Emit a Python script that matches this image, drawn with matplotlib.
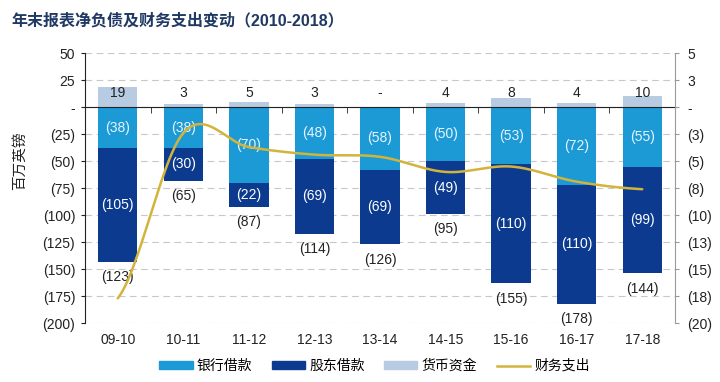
import numpy as np
import matplotlib
matplotlib.use("Agg")
import matplotlib.pyplot as plt
from matplotlib.patches import Patch
from matplotlib.lines import Line2D
from matplotlib.ticker import FixedLocator, FuncFormatter

plt.rcParams['font.family'] = ['Liberation Sans', 'Noto Sans CJK SC', 'DejaVu Sans']

categories = ['09-10', '10-11', '11-12', '12-13', '13-14', '14-15', '15-16', '16-17', '17-18']
bank_loans = [-38, -38, -70, -48, -58, -50, -53, -72, -55]
shareholder_loans = [-105, -30, -22, -69, -69, -49, -110, -110, -99]
cash = [19, 3, 5, 3, 0, 4, 8, 4, 10]
net_debt = [-123, -65, -87, -114, -126, -95, -155, -178, -144]
finance_cost = [-17.7, -2.4, -3.7, -4.4, -4.6, -6.0, -5.5, -6.9, -7.6]
cash_labels = ['19', '3', '5', '3', '-', '4', '8', '4', '10']

legend_names = ['银行借款', '股东借款', '货币资金', '财务支出']
title = '年末报表净负债及财务支出变动（2010-2018）'
ylabel = '百万英镑'

c_bank = '#1C9AD6'
c_share = '#0B3A8F'
c_cash = '#B7CBE3'
c_line = '#D2B43C'

fig = plt.figure(figsize=(7.2, 3.82), dpi=100)
ax = fig.add_axes([0.118, 0.154, 0.8195, 0.707])
ax2 = ax.twinx()

x = np.arange(len(categories))
w = 0.6
ax.bar(x, cash, w, color=c_cash, zorder=2)
ax.bar(x, bank_loans, w, color=c_bank, zorder=2)
ax.bar(x, shareholder_loans, w, bottom=bank_loans, color=c_share, zorder=2)

for i in range(len(categories)):
    ax.text(x[i], 13, cash_labels[i], ha='center', va='center', fontsize=10, color='#222222', zorder=5)
    ax.text(x[i], bank_loans[i] / 2, f'({-bank_loans[i]})', ha='center', va='center',
            fontsize=10, color='#E6F4FF', zorder=5)
    ax.text(x[i], bank_loans[i] + shareholder_loans[i] / 2, f'({-shareholder_loans[i]})',
            ha='center', va='center', fontsize=10, color='white', zorder=5)
    bottom = bank_loans[i] + shareholder_loans[i]
    ax.annotate(f'({-net_debt[i]})', (x[i], bottom), xytext=(0, -6), textcoords='offset points',
                ha='center', va='top', fontsize=10, color='#222222', zorder=5)

# smoothed line (Catmull-Rom through the data points, like a spreadsheet smooth line)
p = np.array(finance_cost, dtype=float)
xs, ys = [], []
n = len(p)
for k in range(n - 1):
    p0 = p[k - 1] if k > 0 else p[k]
    p1, p2 = p[k], p[k + 1]
    p3 = p[k + 2] if k + 2 < n else p[k + 1]
    t = np.linspace(0, 1, 30)
    yk = 0.5 * ((2 * p1) + (-p0 + p2) * t + (2 * p0 - 5 * p1 + 4 * p2 - p3) * t ** 2
                + (-p0 + 3 * p1 - 3 * p2 + p3) * t ** 3)
    xs.extend(k + t)
    ys.extend(yk)
ax2.plot(xs, ys, color=c_line, lw=1.8, zorder=6, solid_capstyle='round')

ax.set_xlim(-0.5, 8.5)
ax.set_ylim(-200, 50)
ax2.set_ylim(-20, 5)

lt = list(range(50, -201, -25))
ax.yaxis.set_major_locator(FixedLocator(lt))

def lfmt(v, pos):
    v = int(round(v))
    if v == 0:
        return '-'
    return f'({-v})' if v < 0 else f'{v}'

def rfmt(v, pos):
    r = int(np.floor(abs(v) + 0.5))
    if abs(v) < 1e-9:
        return '-'
    return f'({r})' if v < 0 else f'{r}'

ax.yaxis.set_major_formatter(FuncFormatter(lfmt))
ax2.yaxis.set_major_locator(FixedLocator([v / 10 for v in lt]))
ax2.yaxis.set_major_formatter(FuncFormatter(rfmt))

ax.grid(axis='y', color='#C8C8C8', linestyle=(0, (6, 4)), lw=0.8, zorder=0)
ax.set_axisbelow(True)

ax.spines['top'].set_visible(False)
ax.spines['right'].set_visible(False)
ax.spines['left'].set_color('#222222')
ax.spines['bottom'].set_position(('data', 0))
ax.spines['bottom'].set_color('#222222')
ax.spines['bottom'].set_zorder(4)

ax.set_xticks(x)
ax.set_xticks(np.arange(0.5, 8, 1), minor=True)
ax.tick_params(axis='x', which='major', length=0, labelbottom=False)
ax.tick_params(axis='x', which='minor', length=4, direction='out', color='#222222')
ax.tick_params(axis='y', length=3, direction='out', labelsize=10, colors='#222222', pad=4)

ax2.spines['top'].set_visible(False)
ax2.spines['left'].set_visible(False)
ax2.spines['bottom'].set_visible(False)
ax2.spines['right'].set_color('#9A9A9A')
ax2.tick_params(axis='y', length=3, direction='out', labelsize=10, colors='#222222', pad=6)
ax2.yaxis.set_tick_params(color='#9A9A9A')
ax2.xaxis.set_visible(True)
ax2.set_xticks(x)
ax2.set_xticklabels(categories)
ax2.tick_params(axis='x', which='both', length=0, labelbottom=True, labelsize=10, pad=7, colors='#222222')

fig.text(0.028, 0.58, ylabel, rotation=90, ha='center', va='center', fontsize=10.5, color='#222222')
fig.text(0.016, 0.945, title, fontsize=11.5, fontweight='bold', color='#1F3864', ha='left', va='center')

handles = [Patch(color=c_bank), Patch(color=c_share), Patch(color=c_cash),
           Line2D([0], [0], color=c_line, lw=1.8)]
fig.legend(handles, legend_names, loc='center', bbox_to_anchor=(0.52, 0.042), ncol=4,
           frameon=False, fontsize=10, handlelength=2.4, handleheight=0.45,
           columnspacing=1.4, handletextpad=0.3)

fig.savefig('out.png', dpi=100)
